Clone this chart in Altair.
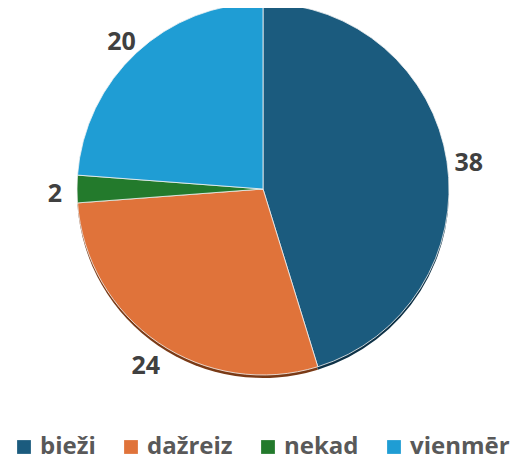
import altair as alt
import pandas as pd

categories = ["bieži", "dažreiz", "nekad", "vienmēr"]
values = [38, 24, 2, 20]
colors = ["#1b5b7e", "#e0733a", "#237a2c", "#1f9dd4"]
shadow_colors = ["#0e3247", "#7a3a16", "#123f17", "#0f5675"]

df = pd.DataFrame({"cat": categories, "val": values, "idx": list(range(len(categories)))})

CX, CY = 255, 181
R = 186

theta = alt.Theta("val:Q", stack=True)
order = alt.Order("idx:Q")

shadow = alt.Chart(df).mark_arc(outerRadius=R).encode(
    theta=theta,
    order=order,
    color=alt.Color("cat:N", scale=alt.Scale(domain=categories, range=shadow_colors), legend=None),
    x=alt.value(CX),
    y=alt.value(CY + 3),
)

pie = alt.Chart(df).mark_arc(outerRadius=R, stroke="#f4f4f4", strokeWidth=0.8).encode(
    theta=theta,
    order=order,
    color=alt.Color(
        "cat:N",
        scale=alt.Scale(domain=categories, range=colors),
        legend=alt.Legend(
            title=None,
            orient="none",
            direction="horizontal",
            legendX=4,
            legendY=427,
            symbolType="square",
            symbolSize=190,
            symbolStrokeWidth=0,
            labelFont="Open Sans",
            labelFontSize=24,
            labelFontWeight="bold",
            labelColor="#595959",
            labelOffset=4,
            columnPadding=23,
            labelLimit=200,
        ),
    ),
    x=alt.value(CX),
    y=alt.value(CY),
)

labels = alt.Chart(df).mark_text(
    radius=208, dy=5, font="Open Sans", fontSize=25, fontWeight="bold", color="#404040"
).encode(
    theta=theta,
    order=order,
    text="val:Q",
    x=alt.value(CX),
    y=alt.value(CY),
)

chart = alt.layer(shadow, pie, labels).properties(
    width=509, height=452, autosize="none", padding=0
).resolve_scale(color="independent").configure_view(stroke=None)

chart.save("out.html", embed_options={"renderer": "svg", "actions": False})
